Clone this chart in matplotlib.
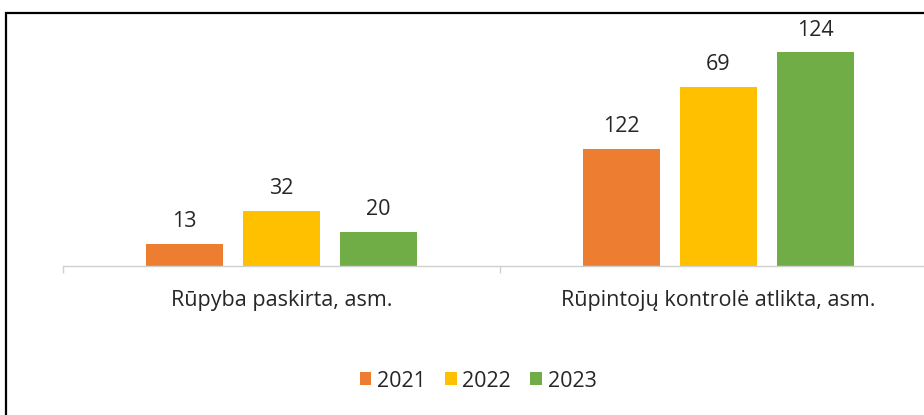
import matplotlib.pyplot as plt
import matplotlib.patches as patches
import numpy as np

categories = ["Rūpyba paskirta, asm.", "Rūpintojų kontrolė atlikta, asm."]
years = ["2021", "2022", "2023"]
# bar heights as drawn in the picture
heights = {
    "2021": [13, 68],
    "2022": [32, 104],
    "2023": [20, 124],
}
# data labels as printed above the bars
labels = {
    "2021": [13, 122],
    "2022": [32, 69],
    "2023": [20, 124],
}
colors = ["#ED7D31", "#FFC000", "#70AD47"]

W, H = 924, 415
fig = plt.figure(figsize=(W / 100, H / 100), dpi=100)
plt.rcParams['font.family'] = ['Open Sans', 'DejaVu Sans']
FS = 15.5

# axes: category axis from x=63 to x=937 px, baseline at y=266 px
ax_left = 63 / W
ax_width = 874 / W
ax_bottom = (H - 266) / H
ax_height = 224 / H
ax = fig.add_axes([ax_left, ax_bottom, ax_width, ax_height])

x = np.arange(len(categories))
bw = 0.176
step = 0.222
for i, yr in enumerate(years):
    pos = x + (i - 1) * step
    bars = ax.bar(pos, heights[yr], width=bw, color=colors[i], label=yr, zorder=2)
    for b, lab in zip(bars, labels[yr]):
        ax.annotate(str(lab), (b.get_x() + b.get_width() / 2, b.get_height()),
                    xytext=(0, 8.5), textcoords="offset points",
                    ha="center", va="bottom", fontsize=FS, color="#262626")

ax.set_xlim(-0.5, 1.5)
ax.set_ylim(0, 130)
ax.set_yticks([])
ax.set_xticks([-0.5, 0.5, 1.5], minor=False)
ax.set_xticklabels([])
ax.tick_params(axis='x', length=5, color="#d0d0d0", width=1)
for i, c in enumerate(categories):
    ax.text(x[i], -0.105, c, transform=ax.get_xaxis_transform(),
            ha="center", va="top", fontsize=FS, color="#262626")
for s in ["top", "right", "left"]:
    ax.spines[s].set_visible(False)
ax.spines["bottom"].set_color("#d0d0d0")
ax.spines["bottom"].set_linewidth(1)

leg = fig.legend(loc="center", bbox_to_anchor=(478 / W, 1 - 381 / H), ncol=3,
                 frameon=False, fontsize=FS, handlelength=0.55, handleheight=0.55,
                 handletextpad=0.25, columnspacing=0.9)
for t in leg.get_texts():
    t.set_color("#262626")

# outer black frame (cropped on right and bottom)
frame = patches.Rectangle((6 / W, -0.1), 1.2, 1 - 13 / H + 0.1,
                          transform=fig.transFigure, fill=False,
                          edgecolor="black", linewidth=1.6, clip_on=False)
fig.patches.append(frame)

fig.savefig("out.png", dpi=100)
